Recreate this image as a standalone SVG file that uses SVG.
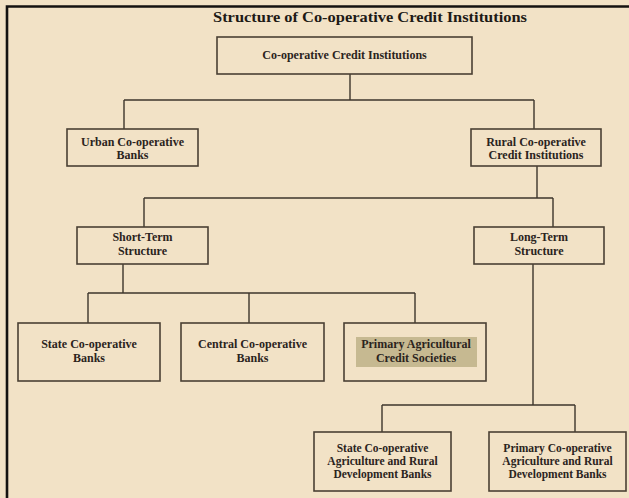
<svg xmlns="http://www.w3.org/2000/svg" width="629" height="498" viewBox="0 0 629 498">
<style>
.bx{fill:none;stroke:#4a4034;stroke-width:1.6}
.cn{fill:none;stroke:#3e362c;stroke-width:1.4}
.t{font-family:"Liberation Serif","Times New Roman",serif;font-weight:bold;font-size:12px;fill:#2b241d;text-anchor:middle}
.s{font-size:11.5px}
</style>
<rect x="0" y="0" width="629" height="498" fill="#F2E2C6"/>
<path d="M7,498 V6.5 H629" fill="none" stroke="#141210" stroke-width="2.6"/>
<text x="370" y="22" font-family="'Liberation Serif','Times New Roman',serif" font-weight="bold" font-size="15.5" fill="#1e1a16" text-anchor="middle" textLength="314" lengthAdjust="spacingAndGlyphs">Structure of Co-operative Credit Institutions</text>
<g id="connectors">
<path class="cn" d="M350,74 V100 M124,100 H534 M124,100 V129 M534,100 V129"/>
<path class="cn" d="M537,166 V198 M144,198 H553 M144,198 V227 M553,198 V227"/>
<path class="cn" d="M123,264 V293 M88,293 H415 M88,293 V323 M249,293 V323 M415,293 V323"/>
<path class="cn" d="M533,264 V405 M382,405 H575 M382,405 V432 M575,405 V432"/>
</g>
<g id="root"><rect class="bx" x="217" y="37" width="255" height="37"/><text class="t" x="344.5" y="59">Co-operative Credit Institutions</text></g>
<g id="urban"><rect class="bx" x="67" y="129" width="131" height="37"/><text class="t" x="132.5" y="146">Urban Co-operative</text><text class="t" x="132.5" y="159">Banks</text></g>
<g id="rural"><rect class="bx" x="471" y="129" width="130" height="37"/><text class="t" x="536" y="146">Rural Co-operative</text><text class="t" x="536" y="159">Credit Institutions</text></g>
<g id="short"><rect class="bx" x="77" y="227" width="131" height="37"/><text class="t" x="142.5" y="241">Short-Term</text><text class="t" x="142.5" y="255">Structure</text></g>
<g id="long"><rect class="bx" x="474" y="227" width="130" height="37"/><text class="t" x="539" y="241">Long-Term</text><text class="t" x="539" y="255">Structure</text></g>
<g id="scb"><rect class="bx" x="18" y="323" width="142" height="58"/><text class="t" x="89" y="348">State Co-operative</text><text class="t" x="89" y="362">Banks</text></g>
<g id="ccb"><rect class="bx" x="181" y="323" width="143" height="58"/><text class="t" x="252.5" y="348">Central Co-operative</text><text class="t" x="252.5" y="362">Banks</text></g>
<g id="pacs"><rect class="bx" x="344" y="323" width="142" height="58"/><rect x="356" y="337" width="121" height="30" fill="#C6B991"/><text class="t" x="416" y="348">Primary Agricultural</text><text class="t" x="416" y="362">Credit Societies</text></g>
<g id="scardb"><rect class="bx" x="314" y="432" width="137" height="59"/><text class="t s" x="382.5" y="452">State Co-operative</text><text class="t s" x="382.5" y="465">Agriculture and Rural</text><text class="t s" x="382.5" y="478">Development Banks</text></g>
<g id="pcardb"><rect class="bx" x="489" y="432" width="137" height="59"/><text class="t s" x="557.5" y="452">Primary Co-operative</text><text class="t s" x="557.5" y="465">Agriculture and Rural</text><text class="t s" x="557.5" y="478">Development Banks</text></g>
</svg>
